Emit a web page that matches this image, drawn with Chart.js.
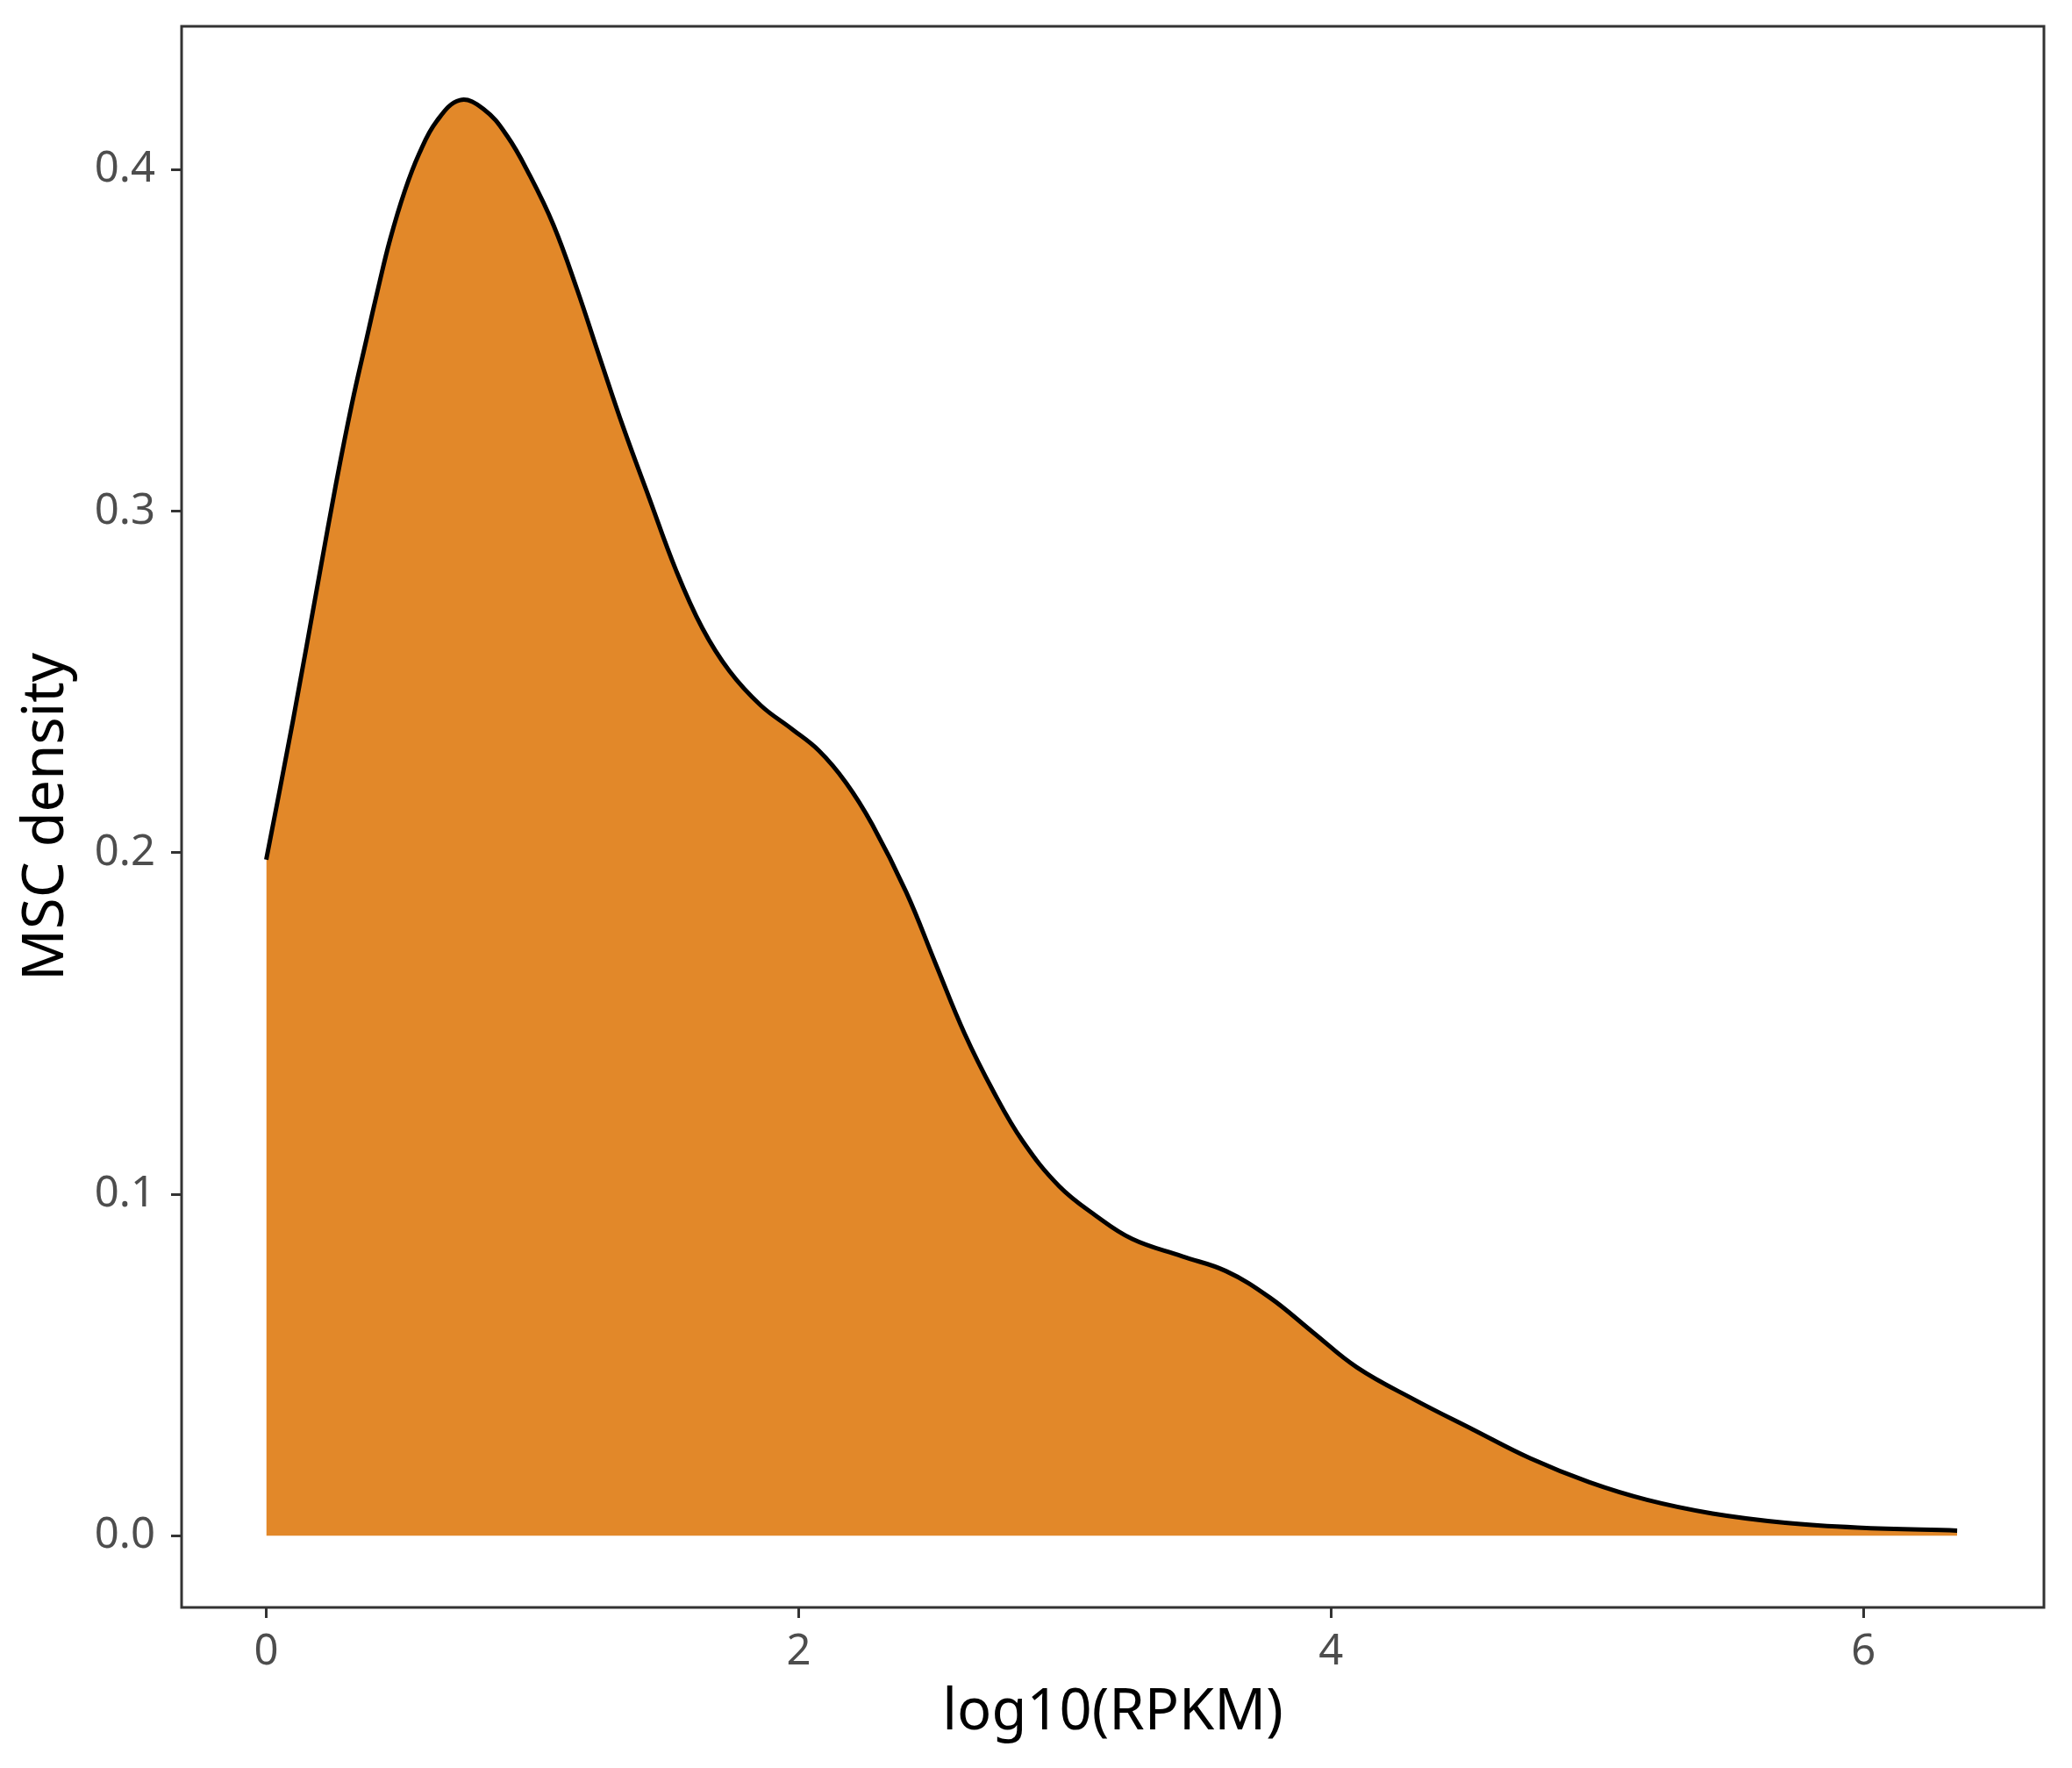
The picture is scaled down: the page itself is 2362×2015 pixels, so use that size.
<!DOCTYPE html>
<html lang="en">
<head>
    <meta charset="UTF-8">
    <title>MSC density</title>
    <script src="https://cdn.jsdelivr.net/npm/chart.js"></script>
    <style>
        html, body {
            margin: 0;
            padding: 0;
            background: #ffffff;
        }
        .chart-container {
            width: 2362px;
            height: 2015px;
        }
    </style>
</head>
<body>
    <div class="chart-container">
        <canvas id="myChart"></canvas>
    </div>

    <script>
        // density curve
        const logRpkm = [0, 0.1, 0.2, 0.262, 0.322, 0.377, 0.421, 0.465, 0.52, 0.575,
            0.64, 0.728, 0.816, 0.904, 0.991, 1.079, 1.167, 1.254, 1.342, 1.438,
            1.539, 1.638, 1.74, 1.857, 1.975, 2.076, 2.177, 2.277, 2.405, 2.513,
            2.623, 2.733, 2.842, 2.978, 3.115, 3.253, 3.441, 3.605, 3.769, 3.933,
            4.097, 4.314, 4.533, 4.75, 4.969, 5.187, 5.433, 5.706, 5.977, 6.352];
        const density = [0.198, 0.2385, 0.2815, 0.308, 0.3315, 0.3505, 0.3655, 0.3795, 0.3937, 0.4048,
            0.4142, 0.4204, 0.4178, 0.41, 0.3982, 0.3838, 0.3651, 0.3447, 0.3244, 0.304,
            0.2828, 0.2658, 0.2532, 0.2432, 0.2362, 0.2299, 0.2206, 0.2082, 0.1883, 0.1678,
            0.1471, 0.1299, 0.1155, 0.1024, 0.0938, 0.0869, 0.0818, 0.0775, 0.0698, 0.0595,
            0.0493, 0.0398, 0.0311, 0.0226, 0.0157, 0.0105, 0.0065, 0.0038, 0.0024, 0.0015];

        const xTicks = [0, 2, 4, 6];
        const yTicks = [0.0, 0.1, 0.2, 0.3, 0.4];

        const FONT = '"Noto Sans", "Open Sans", sans-serif';

        // ggplot style panel border round the plot area
        const panelBorder = {
            id: 'panelBorder',
            afterDraw(chart) {
                const a = chart.chartArea;
                const ctx = chart.ctx;
                ctx.save();
                ctx.strokeStyle = '#333333';
                ctx.lineWidth = 3;
                ctx.strokeRect(a.left, a.top, a.right - a.left, a.bottom - a.top);
                ctx.restore();
            }
        };

        const points = logRpkm.map((x, i) => ({ x: x, y: density[i] }));

        const ctx = document.getElementById('myChart').getContext('2d');
        new Chart(ctx, {
            type: 'line',
            data: {
                datasets: [{
                    label: 'MSC',
                    data: points,
                    borderColor: '#000000',
                    borderWidth: 5,
                    backgroundColor: 'rgb(226, 136, 41)',
                    fill: 'origin',
                    pointRadius: 0,
                    tension: 0.4
                }]
            },
            plugins: [panelBorder],
            options: {
                responsive: true,
                maintainAspectRatio: false,
                devicePixelRatio: 1,
                animation: false,
                layout: {
                    padding: { top: 30, right: 32, left: 0, bottom: 0 }
                },
                plugins: {
                    legend: { display: false },
                    tooltip: { enabled: false }
                },
                scales: {
                    x: {
                        type: 'linear',
                        min: -0.318,
                        max: 6.678,
                        afterBuildTicks: function(scale) {
                            scale.ticks = xTicks.map(v => ({ value: v }));
                        },
                        afterFit: function(scale) {
                            scale.height = 183;
                            scale.paddingLeft = 0;
                            scale.paddingRight = 0;
                        },
                        grid: {
                            drawOnChartArea: false,
                            drawTicks: true,
                            tickLength: 12,
                            color: '#333333',
                            lineWidth: 3
                        },
                        border: { display: false },
                        ticks: {
                            padding: 10,
                            color: '#4d4d4d',
                            font: { family: FONT, size: 49 },
                            maxRotation: 0,
                            callback: function(value) { return String(value); }
                        },
                        title: {
                            display: true,
                            text: 'log10(RPKM)',
                            color: '#000000',
                            font: { family: FONT, size: 65 },
                            padding: { top: 0, bottom: 24 }
                        }
                    },
                    y: {
                        type: 'linear',
                        min: -0.021,
                        max: 0.442,
                        afterBuildTicks: function(scale) {
                            scale.ticks = yTicks.map(v => ({ value: v }));
                        },
                        afterFit: function(scale) {
                            scale.width = 207;
                            scale.paddingTop = 0;
                            scale.paddingBottom = 0;
                        },
                        grid: {
                            drawOnChartArea: false,
                            drawTicks: true,
                            tickLength: 12,
                            color: '#333333',
                            lineWidth: 3
                        },
                        border: { display: false },
                        ticks: {
                            padding: 18,
                            color: '#4d4d4d',
                            font: { family: FONT, size: 49 },
                            callback: function(value) { return Number(value).toFixed(1); }
                        },
                        title: {
                            display: true,
                            text: 'MSC density',
                            color: '#000000',
                            font: { family: FONT, size: 65 },
                            padding: { top: 14, bottom: 0 }
                        }
                    }
                }
            }
        });
    </script>
</body>
</html>
